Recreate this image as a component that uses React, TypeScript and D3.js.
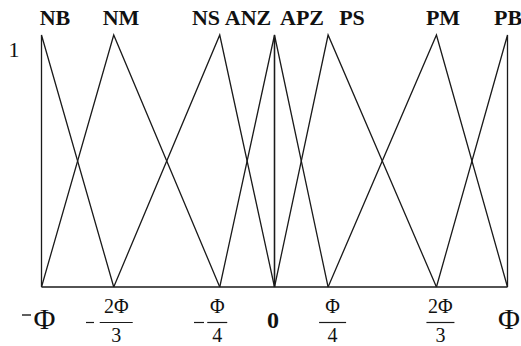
import React from "react";
import * as d3 from "d3";

// Membership function names and breakpoints (in units of Φ)
const setNames = ["NB", "NM", "NS", "ANZ", "APZ", "PS", "PM", "PB"];
const leftFeet = [-1, -1, -0.69, -0.235, 0, 0, 0.23, 0.695];
const peaks = [-1, -0.69, -0.235, 0, 0, 0.23, 0.695, 1];
const rightFeet = [-0.69, -0.235, 0, 0, 0.23, 0.695, 1, 1];

// Axis tick positions (units of Φ)
const tickValues = [-1, -0.69, -0.235, 0, 0.23, 0.695, 1];

const W = 521;
const H = 346;
const FONT = "'Liberation Serif', 'Times New Roman', serif";

// layout: label centres (pixels) for the top names
const nameX = [55, 121, 206, 248, 302, 352, 443, 508];

export default function App() {
  const x = d3.scaleLinear().domain([-1, 1]).range([41.5, 507.5]);
  const y = d3.scaleLinear().domain([0, 1]).range([287, 35]);
  const line = d3
    .line<[number, number]>()
    .x((d) => x(d[0]))
    .y((d) => y(d[1]));

  const stroke = "#1a1a1a";

  const fraction = (
    cx: number,
    num: string,
    den: string,
    barW: number,
    minusX: number | null,
    minusW: number
  ) => (
    <g>
      {minusX !== null && (
        <line x1={minusX} x2={minusX + minusW} y1={322.5} y2={322.5} stroke={stroke} strokeWidth={1.2} />
      )}
      <text x={cx} y={313} textAnchor="middle" fontSize={20} fontFamily={FONT} fill="#111">
        {num}
      </text>
      <line x1={cx - barW / 2} x2={cx + barW / 2} y1={322.5} y2={322.5} stroke={stroke} strokeWidth={1.2} />
      <text x={cx} y={342} textAnchor="middle" fontSize={20} fontFamily={FONT} fill="#111">
        {den}
      </text>
    </g>
  );

  return (
    <svg
      width={W}
      height={H}
      style={{ position: "absolute", left: 0, top: 0, display: "block", background: "#fff" }}
    >
      <rect width={W} height={H} fill="#fff" />
      {/* baseline */}
      <path d={line([[-1, 0], [1, 0]]) || ""} stroke={stroke} strokeWidth={1.4} fill="none" />
      {/* membership functions */}
      {setNames.map((n, i) => (
        <path
          key={n}
          d={line([[leftFeet[i], 0], [peaks[i], 1], [rightFeet[i], 0]]) || ""}
          stroke={stroke}
          strokeWidth={1.3}
          fill="none"
          strokeLinejoin="miter"
        />
      ))}
      {/* top labels */}
      {setNames.map((n, i) => (
        <text
          key={"l" + n}
          x={nameX[i]}
          y={25}
          textAnchor="middle"
          fontSize={22}
          fontWeight="bold"
          fontFamily={FONT}
          fill="#111"
        >
          {n}
        </text>
      ))}
      {/* y label */}
      <text x={14} y={57} textAnchor="middle" fontSize={22} fontFamily={FONT} fill="#111">
        1
      </text>
      {/* x tick labels */}
      <line x1={22} x2={31} y1={315} y2={315} stroke={stroke} strokeWidth={1.4} />
      <text x={x(tickValues[0]) + 3} y={329} textAnchor="middle" fontSize={30} fontFamily={FONT} fill="#111">
        Φ
      </text>
      {fraction(x(tickValues[1]) + 2.5, "2Φ", "3", 33, 86, 8)}
      {fraction(x(tickValues[2]) - 2.5, "Φ", "4", 20, 194, 10)}
      <text x={x(tickValues[3]) - 1.5} y={328} textAnchor="middle" fontSize={24} fontWeight="bold" fontFamily={FONT} fill="#111">
        0
      </text>
      {fraction(x(tickValues[4]) + 4.5, "Φ", "4", 27, null, 0)}
      {fraction(x(tickValues[5]) + 4, "2Φ", "3", 28, null, 0)}
      <text x={x(tickValues[6]) + 1.5} y={329} textAnchor="middle" fontSize={30} fontFamily={FONT} fill="#111">
        Φ
      </text>
    </svg>
  );
}
